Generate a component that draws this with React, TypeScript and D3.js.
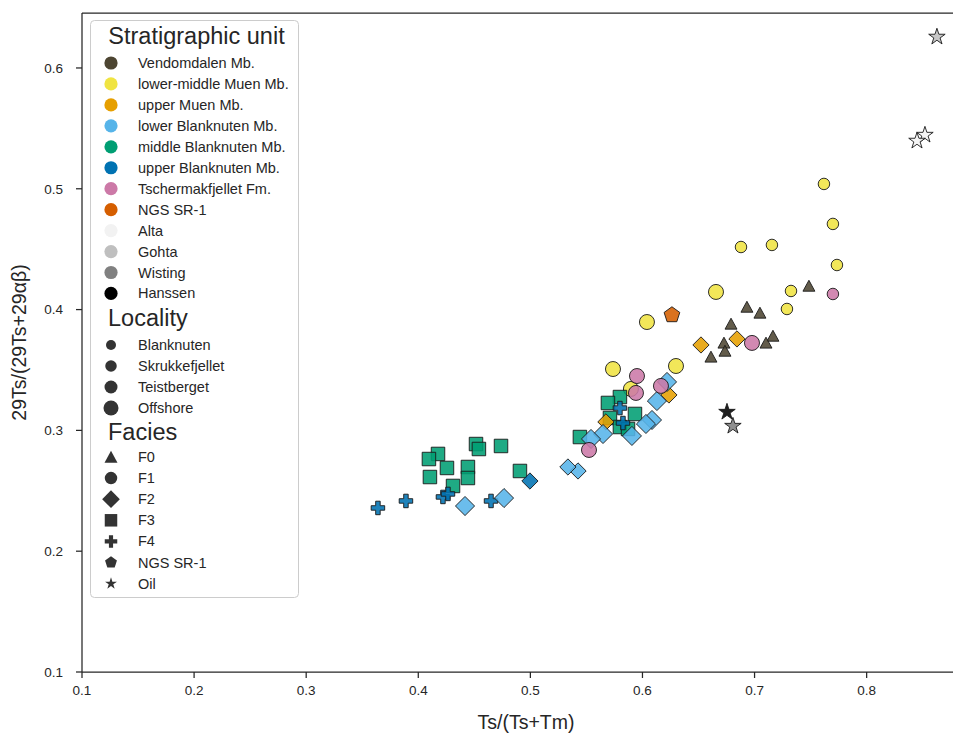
import React from "react";
import * as d3 from "d3";

// ---- data: [Ts/(Ts+Tm), 29Ts/(29Ts+29αβ), locality] ----
type Pt = [number, number, string];

const vendomdalenF0: Pt[] = [
  [0.7485, 0.4195, "Blanknuten"], [0.6932, 0.4021, "Blanknuten"], [0.7048, 0.3972, "Blanknuten"],
  [0.679, 0.3881, "Blanknuten"], [0.6727, 0.3724, "Blanknuten"], [0.6736, 0.3657, "Blanknuten"],
  [0.6611, 0.3608, "Blanknuten"], [0.7164, 0.3781, "Blanknuten"], [0.7102, 0.3724, "Blanknuten"],
];

const lowerMiddleMuenF1: Pt[] = [
  [0.7619, 0.504, "Blanknuten"], [0.7699, 0.4709, "Blanknuten"], [0.7735, 0.4369, "Blanknuten"],
  [0.7155, 0.4535, "Blanknuten"], [0.6879, 0.4518, "Blanknuten"], [0.7325, 0.4154, "Blanknuten"],
  [0.7289, 0.4005, "Blanknuten"], [0.6656, 0.4146, "Teistberget"], [0.604, 0.3897, "Teistberget"],
  [0.6299, 0.3533, "Teistberget"], [0.5737, 0.3508, "Teistberget"], [0.5897, 0.3343, "Teistberget"],
];

const middleBlanknutenF3: Pt[] = [
  [0.4515, 0.2887, "Skrukkefjellet"], [0.4541, 0.2846, "Skrukkefjellet"], [0.4738, 0.2871, "Skrukkefjellet"],
  [0.4176, 0.2805, "Skrukkefjellet"], [0.4095, 0.2763, "Skrukkefjellet"], [0.4256, 0.2689, "Skrukkefjellet"],
  [0.4443, 0.2697, "Skrukkefjellet"], [0.4443, 0.2606, "Skrukkefjellet"], [0.4104, 0.2614, "Skrukkefjellet"],
  [0.431, 0.254, "Skrukkefjellet"], [0.4907, 0.2664, "Skrukkefjellet"], [0.5799, 0.3276, "Skrukkefjellet"],
  [0.5692, 0.3227, "Skrukkefjellet"], [0.5933, 0.3136, "Skrukkefjellet"], [0.571, 0.3103, "Skrukkefjellet"],
  [0.5799, 0.3028, "Skrukkefjellet"], [0.5871, 0.3012, "Skrukkefjellet"], [0.5442, 0.2945, "Skrukkefjellet"],
];

const upperMuenF2: Pt[] = [
  [0.6522, 0.3707, "Blanknuten"], [0.6843, 0.3757, "Blanknuten"],
  [0.6236, 0.3293, "Blanknuten"], [0.5674, 0.307, "Blanknuten"],
];

const upperBlanknutenF2: Pt[] = [[0.4996, 0.2581, "Blanknuten"]];

const upperBlanknutenF4: Pt[] = [
  [0.364, 0.2358, "Skrukkefjellet"], [0.389, 0.2416, "Skrukkefjellet"], [0.422, 0.2449, "Skrukkefjellet"],
  [0.4265, 0.2474, "Skrukkefjellet"], [0.4649, 0.2416, "Skrukkefjellet"], [0.5799, 0.3185, "Skrukkefjellet"],
  [0.5826, 0.3061, "Skrukkefjellet"],
];

const lowerBlanknutenF2: Pt[] = [
  [0.6219, 0.3401, "Skrukkefjellet"], [0.6129, 0.3243, "Skrukkefjellet"], [0.6085, 0.3086, "Skrukkefjellet"],
  [0.6031, 0.3053, "Skrukkefjellet"], [0.5906, 0.2954, "Skrukkefjellet"], [0.5648, 0.297, "Skrukkefjellet"],
  [0.5541, 0.2929, "Skrukkefjellet"], [0.5425, 0.2664, "Blanknuten"], [0.5335, 0.2697, "Blanknuten"],
  [0.4417, 0.2374, "Skrukkefjellet"], [0.4765, 0.244, "Skrukkefjellet"],
];

const tschermakfjelletF1: Pt[] = [
  [0.7699, 0.4129, "Blanknuten"], [0.6977, 0.3724, "Teistberget"], [0.6165, 0.3368, "Teistberget"],
  [0.5951, 0.345, "Teistberget"], [0.5942, 0.331, "Teistberget"], [0.5523, 0.2838, "Teistberget"],
];

const ngsSR1: Pt[] = [[0.6263, 0.3955, "Offshore"]];

const oilAlta: Pt[] = [[0.852, 0.5445, "Offshore"], [0.8449, 0.5396, "Offshore"]];
const oilGohta: Pt[] = [[0.8627, 0.6257, "Offshore"]];
const oilWisting: Pt[] = [[0.6807, 0.3036, "Offshore"]];
const oilHanssen: Pt[] = [[0.6754, 0.3152, "Offshore"]];

const unitNames = [
  "Vendomdalen Mb.", "lower-middle Muen Mb.", "upper Muen Mb.", "lower Blanknuten Mb.",
  "middle Blanknuten Mb.", "upper Blanknuten Mb.", "Tschermakfjellet Fm.", "NGS SR-1",
  "Alta", "Gohta", "Wisting", "Hanssen",
];
const unitColors = [
  "#4d4532", "#f0e442", "#e69f00", "#56b4e9", "#009e73", "#0072b2", "#cc79a7", "#d55e00",
  "#f2f2f2", "#bfbfbf", "#808080", "#000000",
];
const localityNames = ["Blanknuten", "Skrukkefjellet", "Teistberget", "Offshore"];
const localityMarker = [11.5, 13.5, 15, 16.5];
const localityLegendMarker = [10, 11.5, 13, 15];
const faciesNames = ["F0", "F1", "F2", "F3", "F4", "NGS SR-1", "Oil"];

const xTicks = [0.1, 0.2, 0.3, 0.4, 0.5, 0.6, 0.7, 0.8];
const yTicks = [0.1, 0.2, 0.3, 0.4, 0.5, 0.6];

// ---- marker shapes (size passed as d², d = marker width) ----
const circleT = {
  draw(ctx: any, size: number) {
    const r = Math.sqrt(size) / 2;
    ctx.moveTo(r, 0);
    ctx.arc(0, 0, r, 0, 2 * Math.PI);
  },
};
const squareT = {
  draw(ctx: any, size: number) {
    const h = Math.sqrt(size) / 2;
    ctx.rect(-h, -h, 2 * h, 2 * h);
  },
};
const diamondT = {
  draw(ctx: any, size: number) {
    const h = (Math.sqrt(size) * Math.SQRT2) / 2;
    ctx.moveTo(0, -h);
    ctx.lineTo(h, 0);
    ctx.lineTo(0, h);
    ctx.lineTo(-h, 0);
    ctx.closePath();
  },
};
const triangleT = {
  draw(ctx: any, size: number) {
    const s = Math.sqrt(size);
    ctx.moveTo(0, -0.5 * s);
    ctx.lineTo(0.52 * s, 0.45 * s);
    ctx.lineTo(-0.52 * s, 0.45 * s);
    ctx.closePath();
  },
};
const plusT = {
  draw(ctx: any, size: number) {
    const u = Math.sqrt(size) / 6;
    const pts = [[-1, -3], [1, -3], [1, -1], [3, -1], [3, 1], [1, 1], [1, 3], [-1, 3], [-1, 1], [-3, 1], [-3, -1], [-1, -1]];
    pts.forEach(([a, b], i) => (i ? ctx.lineTo(a * u, b * u) : ctx.moveTo(a * u, b * u)));
    ctx.closePath();
  },
};
const polyStar = (n: number, inner: number) => ({
  draw(ctx: any, size: number) {
    const R = Math.sqrt(size) / 2;
    const k = inner > 0 ? 2 * n : n;
    for (let i = 0; i < k; i++) {
      const r = inner > 0 && i % 2 ? R * inner : R;
      const a = (i * 2 * Math.PI) / k - Math.PI / 2;
      const px = r * Math.cos(a), py = r * Math.sin(a);
      i ? ctx.lineTo(px, py) : ctx.moveTo(px, py);
    }
    ctx.closePath();
  },
});
const pentagonT = polyStar(5, 0);
const starT = polyStar(5, 0.381966);
const faciesShapes = [triangleT, circleT, diamondT, squareT, plusT, pentagonT, starT];

const symbolPath = (type: any, d: number) => d3.symbol().type(type).size(d * d)() as string;

const W = 953, H = 734;
const x = d3.scaleLinear().domain([0.1, 0.8922]).range([82, 970]);
const y = d3.scaleLinear().domain([0.1, 0.6455]).range([672, 13]);
const ink = "#262626";
const font = "'Liberation Sans', Arial, sans-serif";

// draw order, bottom to top
const series: { pts: Pt[]; color: string; shape: any; scale?: number }[] = [
  { pts: vendomdalenF0, color: unitColors[0], shape: triangleT },
  { pts: lowerMiddleMuenF1, color: unitColors[1], shape: circleT },
  { pts: middleBlanknutenF3, color: unitColors[4], shape: squareT },
  { pts: upperMuenF2, color: unitColors[2], shape: diamondT },
  { pts: upperBlanknutenF2, color: unitColors[5], shape: diamondT },
  { pts: upperBlanknutenF4, color: unitColors[5], shape: plusT },
  { pts: lowerBlanknutenF2, color: unitColors[3], shape: diamondT },
  { pts: tschermakfjelletF1, color: unitColors[6], shape: circleT },
  { pts: ngsSR1, color: unitColors[7], shape: pentagonT },
  { pts: oilAlta, color: unitColors[8], shape: starT, scale: 1.05 },
  { pts: oilGohta, color: unitColors[9], shape: starT, scale: 1.05 },
  { pts: oilWisting, color: unitColors[10], shape: starT, scale: 1.05 },
  { pts: oilHanssen, color: unitColors[11], shape: starT, scale: 1.05 },
];

export default function App() {
  const legX = 111;
  const textX = 138;
  const unitRowY = (i: number) => 63 + i * 20.95;
  const locRowY = (i: number) => 345 + i * 21;
  const facRowY = (i: number) => 457 + i * 21.1;

  return (
    <svg width={W} height={H} style={{ position: "absolute", left: 0, top: 0, background: "#fff" }} fontFamily={font}>
      <defs>
        <clipPath id="plotArea">
          <rect x={0} y={0} width={W} height={H} />
        </clipPath>
      </defs>

      {/* spines */}
      <line x1={82} x2={W} y1={13} y2={13} stroke={ink} strokeWidth={1.25} />
      <line x1={82} x2={82} y1={13} y2={672} stroke={ink} strokeWidth={1.25} />
      <line x1={82} x2={W} y1={672} y2={672} stroke={ink} strokeWidth={1.25} />

      {/* x axis */}
      {xTicks.map((t) => (
        <g key={"x" + t}>
          <line x1={x(t)} x2={x(t)} y1={672} y2={678} stroke={ink} strokeWidth={1.25} />
          <text x={x(t)} y={695} textAnchor="middle" fontSize={13.5} fill={ink}>
            {d3.format(".1f")(t)}
          </text>
        </g>
      ))}
      <text x={526} y={729} textAnchor="middle" fontSize={19.5} fill={ink}>Ts/(Ts+Tm)</text>

      {/* y axis */}
      {yTicks.map((t) => (
        <g key={"y" + t}>
          <line x1={76} x2={82} y1={y(t)} y2={y(t)} stroke={ink} strokeWidth={1.25} />
          <text x={63} y={y(t) + 4.8} textAnchor="end" fontSize={13.5} fill={ink}>
            {d3.format(".1f")(t)}
          </text>
        </g>
      ))}
      <text transform={`translate(26,${(13 + 672) / 2}) rotate(-90)`} textAnchor="middle" fontSize={19.5} fill={ink}>
        29Ts/(29Ts+29αβ)
      </text>

      {/* scatter */}
      <g clipPath="url(#plotArea)">
        {series.map((s, si) =>
          s.pts.map(([vx, vy, loc], i) => {
            const d = localityMarker[localityNames.indexOf(loc)] * (s.scale ?? 1);
            return (
              <path
                key={si + "-" + i}
                d={symbolPath(s.shape, d)}
                transform={`translate(${x(vx)},${y(vy)})`}
                fill={s.color}
                fillOpacity={0.88}
                stroke="#1a1a1a"
                strokeOpacity={0.9}
                strokeWidth={1}
              />
            );
          })
        )}
      </g>

      {/* legend */}
      <rect x={90.5} y={20.5} width={208} height={577} rx={4} fill="#fff" fillOpacity={0.8} stroke="#cccccc" />
      <text x={196.5} y={44} textAnchor="middle" fontSize={23.5} fill={ink}>Stratigraphic unit</text>
      {unitNames.map((n, i) => (
        <g key={n}>
          <circle cx={legX} cy={unitRowY(i)} r={6.6} fill={unitColors[i]} />
          <text x={textX} y={unitRowY(i) + 5} fontSize={14.5} fill={ink}>{n}</text>
        </g>
      ))}
      <text x={108} y={326} fontSize={23.5} fill={ink}>Locality</text>
      {localityNames.map((n, i) => (
        <g key={n}>
          <circle cx={legX} cy={locRowY(i)} r={localityLegendMarker[i] / 2} fill="#333333" />
          <text x={textX} y={locRowY(i) + 5} fontSize={14.5} fill={ink}>{n}</text>
        </g>
      ))}
      <text x={108} y={440} fontSize={23.5} fill={ink}>Facies</text>
      {faciesNames.map((n, i) => (
        <g key={n}>
          <path d={symbolPath(faciesShapes[i], 12.5)} transform={`translate(${legX},${facRowY(i)})`} fill="#333333" />
          <text x={textX} y={facRowY(i) + 5} fontSize={14.5} fill={ink}>{n}</text>
        </g>
      ))}
    </svg>
  );
}
